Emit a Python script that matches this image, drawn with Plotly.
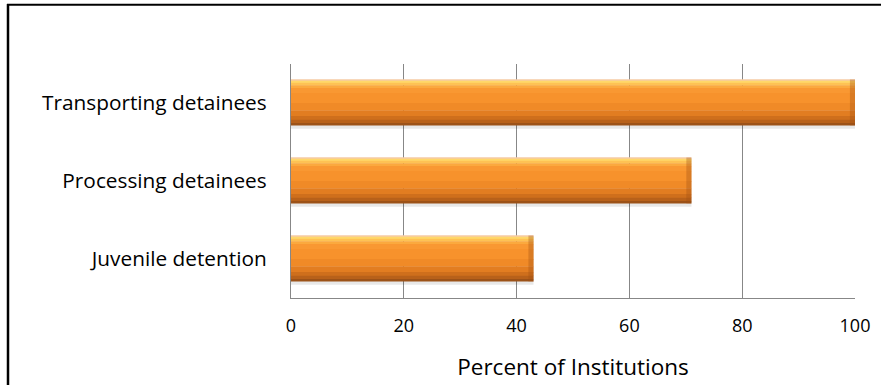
import plotly.graph_objects as go

# Share of institutions offering each service (percent)
categories = ["Juvenile detention", "Processing detainees", "Transporting detainees"]
values = [43, 71, 100]
x_ticks = [0, 20, 40, 60, 80, 100]
x_title = "Percent of Institutions"

W, H = 881, 385
FONT = "Open Sans"

fig = go.Figure()

# drop shadow under each bar
fig.add_trace(go.Bar(
    y=categories, x=values, orientation="h",
    width=0.62, offset=-0.335,
    marker=dict(color="rgba(0,0,0,0.09)", line=dict(width=0)),
    hoverinfo="skip", showlegend=False,
))

# vertical gradient of the bar body, built from thin horizontal strips (top -> bottom)
strips = [
    (0.000, 0.035, "#F6CBA4"),
    (0.035, 0.080, "#FFD86A"),
    (0.080, 0.130, "#FEC254"),
    (0.130, 0.190, "#FBA93E"),
    (0.190, 0.300, "#F99832"),
    (0.300, 0.520, "#F7922C"),
    (0.520, 0.680, "#F08A27"),
    (0.680, 0.800, "#E27D21"),
    (0.800, 0.880, "#CF6F1C"),
    (0.880, 0.950, "#B8611A"),
    (0.950, 1.000, "#9C5218"),
]
bar_w = 0.59
top = bar_w / 2
for a, b, col in strips:
    fig.add_trace(go.Bar(
        y=categories, x=values, orientation="h",
        width=(b - a) * bar_w + 0.004,
        offset=top - b * bar_w,
        marker=dict(color=col, line=dict(width=0)),
        hoverinfo="skip", showlegend=False,
    ))

# bevelled right end of each bar
fig.add_trace(go.Bar(
    y=categories, x=[0.9] * len(values), base=[v - 0.9 for v in values],
    orientation="h", width=bar_w, offset=-top,
    marker=dict(color="rgba(160,80,20,0.35)", line=dict(width=0)),
    hoverinfo="skip", showlegend=False,
))

x0, x1 = 291 / W, 855 / W
y0, y1 = 1 - 297.5 / H, 1 - 63.5 / H

fig.update_layout(
    width=W, height=H,
    autosize=False,
    margin=dict(l=0, r=0, t=0, b=0),
    paper_bgcolor="white", plot_bgcolor="white",
    barmode="overlay",
    bargap=0.41,
    font=dict(family=FONT, size=18, color="#000000"),
    xaxis=dict(
        domain=[x0, x1], range=[0, 100], automargin=False,
        tickvals=x_ticks, ticktext=[str(t) for t in x_ticks],
        showgrid=True, gridcolor="#878787", gridwidth=1.3,
        zeroline=False,
        showline=True, linecolor="#878787", linewidth=1.3,
        ticks="outside", ticklen=12, tickcolor="rgba(0,0,0,0)",
        tickfont=dict(family=FONT, size=18),
        title=dict(text=x_title, font=dict(family=FONT, size=22.5), standoff=22),
        fixedrange=True,
    ),
    yaxis=dict(
        domain=[y0, y1], range=[-0.5, 2.5], automargin=False,
        showgrid=False, zeroline=False,
        showline=True, linecolor="#878787", linewidth=1.3,
        ticks="outside", ticklen=19, tickcolor="rgba(0,0,0,0)",
        tickfont=dict(family=FONT, size=20.8),
        fixedrange=True,
    ),
    shapes=[
        # outer frame: top and left edges
        dict(type="line", xref="paper", yref="paper",
             x0=7 / W, x1=1, y0=1 - 4.8 / H, y1=1 - 4.8 / H,
             line=dict(color="black", width=2)),
        dict(type="line", xref="paper", yref="paper",
             x0=8 / W, x1=8 / W, y0=1 - 4 / H, y1=0,
             line=dict(color="black", width=2.5)),
    ],
)

fig.write_html("out.html", config={"responsive": False, "displayModeBar": False})
